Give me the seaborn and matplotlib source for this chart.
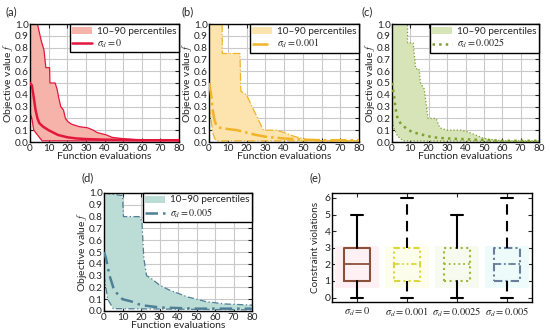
import numpy as np
import matplotlib
matplotlib.use("Agg")
import matplotlib.pyplot as plt
import seaborn as sns
from matplotlib.patches import Patch
from matplotlib.lines import Line2D

# Estilo
sns.set_theme(style="ticks")
plt.rcParams["font.family"] = ["Lato", "DejaVu Sans"]
plt.rcParams.update({"font.size": 7, "mathtext.fontset": "stix",
                     "axes.edgecolor": "black", "axes.linewidth": 1.0,
                     "xtick.direction": "in", "ytick.direction": "in",
                     "xtick.top": True, "ytick.right": True,
                     "xtick.major.size": 3, "ytick.major.size": 3,
                     "xtick.major.pad": 1.5, "ytick.major.pad": 1.0})

# === Datos: percentiles 10-90 y mediana ===
a_hi_x = [0, 4, 5, 6, 7.5, 8.5, 10.5, 10.7, 13.5, 14.5, 15.5, 16.5, 18, 19, 20.5, 22.5, 26.5, 31, 34, 36, 41, 44, 49, 57, 80]
a_hi = [1.0, 1.0, 0.93, 0.86, 0.78, 0.63, 0.63, 0.5, 0.5, 0.45, 0.37, 0.3, 0.27, 0.2, 0.17, 0.15, 0.13, 0.12, 0.1, 0.08, 0.06, 0.04, 0.03, 0.02, 0.02]
a_med_x = [0, 1, 2, 3, 4, 5, 7, 10, 15, 20, 25, 30, 40, 50, 60, 80]
a_med = [0.5, 0.48, 0.38, 0.27, 0.2, 0.16, 0.13, 0.1, 0.06, 0.04, 0.03, 0.025, 0.02, 0.018, 0.015, 0.015]
a_lo_x = [0, 1, 2, 3, 5, 6.5, 80]
a_lo = [0.25, 0.2, 0.1, 0.08, 0.04, 0.01, 0.01]

b_hi_x = [0, 7, 7.1, 16.5, 17, 20, 23, 26, 29, 36, 40, 45, 52, 60, 80]
b_hi = [1.0, 1.0, 0.75, 0.75, 0.43, 0.4, 0.3, 0.2, 0.1, 0.1, 0.08, 0.05, 0.02, 0.01, 0.01]
b_med_x = [0, 1, 2, 3, 4, 6, 10, 15, 20, 25, 30, 40, 50, 60, 80]
b_med = [0.5, 0.42, 0.27, 0.18, 0.14, 0.12, 0.11, 0.1, 0.08, 0.06, 0.045, 0.03, 0.02, 0.015, 0.015]
b_lo_x = [0, 1, 2, 3, 4, 80]
b_lo = [0.3, 0.2, 0.08, 0.03, 0.01, 0.01]

c_hi_x = [0, 8.4, 8.5, 11.5, 12.9, 14.7, 15.5, 17.5, 19.6, 24, 26, 30, 38, 42, 47, 50, 55, 60, 80]
c_hi = [1.0, 1.0, 0.84, 0.84, 0.62, 0.62, 0.5, 0.45, 0.2, 0.2, 0.12, 0.1, 0.1, 0.08, 0.05, 0.03, 0.02, 0.01, 0.01]
c_med_x = [0, 1, 2, 3, 5, 9, 12, 17, 22, 30, 45, 60, 80]
c_med = [0.5, 0.4, 0.28, 0.2, 0.15, 0.1, 0.08, 0.06, 0.04, 0.03, 0.02, 0.01, 0.01]
c_lo_x = [0, 1, 3, 6, 80]
c_lo = [0.2, 0.12, 0.05, 0.01, 0.005]

d_hi_x = [0, 9, 10, 10.5, 19, 20.5, 21.5, 23, 26, 30, 35, 45, 55, 65, 80]
d_hi = [1.0, 0.98, 0.98, 0.8, 0.8, 0.76, 0.45, 0.3, 0.27, 0.22, 0.18, 0.12, 0.08, 0.06, 0.05]
d_med_x = [0, 1, 3, 5, 7, 10, 15, 20, 30, 50, 80]
d_med = [0.5, 0.45, 0.3, 0.2, 0.15, 0.1, 0.08, 0.05, 0.03, 0.02, 0.02]
d_lo_x = [0, 2, 5, 80]
d_lo = [0.3, 0.1, 0.02, 0.01]

sigma_labels = [r"$\sigma_d = 0$", r"$\sigma_d = 0.001$", r"$\sigma_d = 0.0025$", r"$\sigma_d = 0.005$"]

# === Datos: violaciones de restricciones (panel e) ===
e_lo = [0, 0, 0, 0]
e_q1 = [1, 1, 1, 1]
e_med = [2, 2, 2, 2]
e_q3 = [3, 3, 3, 3]
e_hi = [5, 6, 5, 6]

W, H = 550, 332
fig = plt.figure(figsize=(W / 100, H / 100), dpi=100)


def px_axes(left, right, top, bottom):
    return fig.add_axes([left / W, (H - bottom) / H, (right - left) / W, (bottom - top) / H])


panels = [
    ("(a)", (30, 179, 24, 142), (5, 12), a_hi_x, a_hi, a_med_x, a_med, a_lo_x, a_lo,
     "#f6b3aa", "#e3173d", "-", 0),
    ("(b)", (209, 359, 24, 142), (182, 12), b_hi_x, b_hi, b_med_x, b_med, b_lo_x, b_lo,
     "#fde3ad", "#f0b429", "-.", 1),
    ("(c)", (392, 539, 24, 142), (362, 12), c_hi_x, c_hi, c_med_x, c_med, c_lo_x, c_lo,
     "#d7e4b8", "#7f9f2e", ":", 2),
    ("(d)", (104, 252, 193, 311), (81, 178), d_hi_x, d_hi, d_med_x, d_med, d_lo_x, d_lo,
     "#bcdcd6", "#4f7f96", (0, (5, 2, 1, 2)), 3),
]

for (tag, box, tpos, hx, hy, mx, my, lx, ly, fill_c, line_c, ls, k) in panels:
    ax = px_axes(*box)
    ax.fill(np.r_[hx, lx[::-1]], np.r_[hy, ly[::-1]], color=fill_c, lw=0, zorder=1)
    sns.lineplot(x=hx, y=hy, ax=ax, color=line_c, lw=0.9, linestyle=ls,
                 estimator=None, sort=False, zorder=2)
    sns.lineplot(x=lx, y=ly, ax=ax, color=line_c, lw=0.9, linestyle=ls,
                 estimator=None, sort=False, zorder=2)
    sns.lineplot(x=mx, y=my, ax=ax, color=line_c, lw=1.8, linestyle=ls,
                 estimator=None, sort=False, zorder=3)
    ax.set_xlim(0, 80)
    ax.set_ylim(0, 1.0)
    ax.set_xticks(np.arange(0, 81, 10))
    ax.set_yticks(np.round(np.arange(0, 1.01, 0.1), 1))
    ax.set_yticklabels([f"{v:.1f}" for v in np.arange(0, 1.01, 0.1)])
    ax.grid(True, color="#c9c9c9", lw=0.8, zorder=0)
    ax.set_axisbelow(True)
    ax.tick_params(labelsize=7.2, length=3, width=0.8)
    ax.set_xlabel("Function evaluations", fontsize=7.5, labelpad=-0.5)
    ax.set_ylabel(r"Objective value $f$", fontsize=7.5)
    ax.yaxis.set_label_coords(-15 / (box[1] - box[0]), 0.5)
    handles = [Patch(facecolor=fill_c, edgecolor="none"),
               Line2D([], [], color=line_c, lw=1.8, linestyle=ls)]
    leg = ax.legend(handles, ["10–90 percentiles", sigma_labels[k]], loc="upper right",
                    borderaxespad=0, fancybox=False, framealpha=1, fontsize=7.2,
                    handlelength=2.0, handletextpad=0.5, borderpad=0.25, labelspacing=0.15)
    leg.get_frame().set_edgecolor("black")
    leg.get_frame().set_linewidth(1.0)
    fig.text(tpos[0] / W, 1 - tpos[1] / H, tag, fontsize=8, va="center")

# === Panel (e): diagramas de caja ===
axe = px_axes(332, 532, 193, 302)
box_cols = ["#8b5038", "#d9d83a", "#a3b43a", "#6a7d9a"]
bg_cols = ["#fff0f4", "#fdfdec", "#f7faef", "#edfbfb"]
box_ls = ["-", (0, (3, 1.5, 1, 1.5, 1, 1.5)), ":", (0, (4, 1.5, 1, 1.5))]
whis_ls = ["-", (0, (5, 3)), "-", (0, (5, 3))]

stats_bg = [dict(med=m, q1=q1 - 0.45, q3=q3 + 0.1, whislo=q1, whishi=q3, fliers=[])
            for m, q1, q3 in zip(e_med, e_q1, e_q3)]
axe.bxp(stats_bg, positions=[1, 2, 3, 4], widths=0.87, patch_artist=True, showcaps=False,
        boxprops=dict(linewidth=0), medianprops=dict(linewidth=0),
        whiskerprops=dict(linewidth=0))
for patch, c in zip(axe.patches, bg_cols):
    patch.set_facecolor(c)

for i in range(4):
    st = [dict(med=e_med[i], q1=e_q1[i], q3=e_q3[i], whislo=e_lo[i], whishi=e_hi[i], fliers=[])]
    axe.bxp(st, positions=[i + 1], widths=0.52, capwidths=0.24,
            boxprops=dict(color=box_cols[i], linewidth=1.5, linestyle=box_ls[i]),
            medianprops=dict(color=box_cols[i], linewidth=1.3, linestyle=box_ls[i]),
            whiskerprops=dict(color="black", linewidth=1.5, linestyle=whis_ls[i]),
            capprops=dict(color="black", linewidth=1.5))

axe.set_xlim(0.5, 4.5)
axe.set_ylim(-0.27, 6.3)
axe.set_yticks(range(0, 7))
axe.set_xticks([1, 2, 3, 4])
axe.set_xticklabels(sigma_labels, fontsize=7.8)
axe.tick_params(labelsize=7.5, length=3, width=0.8)
axe.tick_params(axis="x", pad=2.5)
axe.set_ylabel("Constraint violations", fontsize=7.2, labelpad=3)
fig.text(310 / W, 1 - 178 / H, "(e)", fontsize=8, va="center")

plt.savefig("out.png", dpi=100)
plt.close()
